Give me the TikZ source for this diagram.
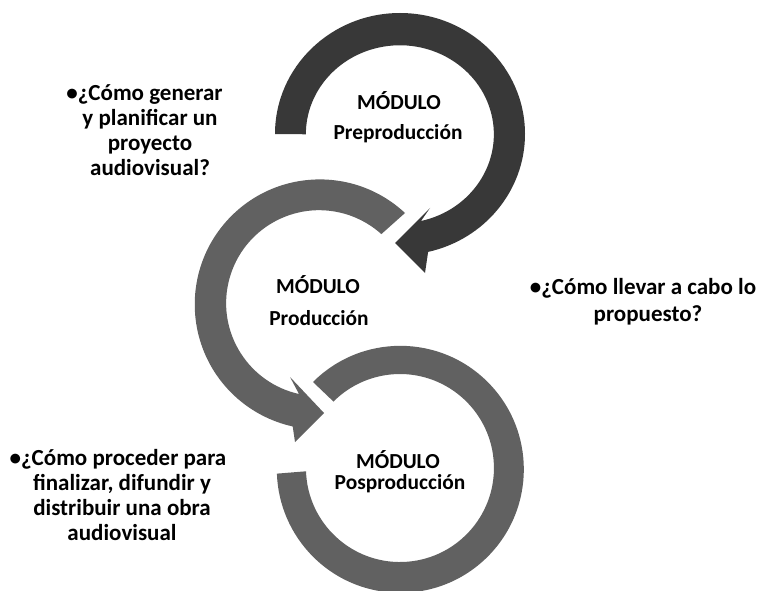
\documentclass[tikz,border=0pt]{standalone}
\usepackage{fontspec}
\setmainfont{Carlito}
\tikzset{
  px/.style={x=1pt,y=-1pt},
  band/.style={fill=#1,draw=none},
  label/.style={font=\bfseries\fontsize{21.4}{25}\selectfont,text=black,inner sep=0pt,anchor=base},
  question/.style={font=\bfseries\fontsize{23}{25}\selectfont,text=black,inner sep=0pt,align=center}
}
\begin{document}
\begin{tikzpicture}[px]
\useasboundingbox (0,0) rectangle (761,591);
\fill[white] (0,0) rectangle (761,591);
% top arrow
\fill[band={black!78}]
  (275,134) arc[start angle=180,end angle=-77,x radius=125,y radius=-121] -- (425,273) -- (395,243) -- (430,208)
  -- (421,221) arc[start angle=-77,end angle=180,x radius=94,y radius=-89] -- cycle;
% middle arrow
\fill[band={black!62}]
  (405,213) arc[start angle=47,end angle=257.5,x radius=125,y radius=-125] -- (295,442) -- (324,413) -- (290,377)
  -- (299,394) arc[start angle=257.5,end angle=48,x radius=93,y radius=-93] -- cycle;
% bottom ring
\fill[band={black!62}]
  (313,382) arc[start angle=135,end angle=-178,x radius=123.5,y radius=-123.5] -- (306,471.3)
  arc[start angle=-178,end angle=135,x radius=94,y radius=-94] -- cycle;
% labels
\node[label] (m1) at (399,110) {MÓDULO};
\node[label] (p1) at (398,140) {Preproducción};
\node[label] (m2) at (318,293) {MÓDULO};
\node[label] (p2) at (319,325) {Producción};
\node[label] (m3) at (398,468) {MÓDULO};
\node[label] (p3) at (400,489) {Posproducción};
\node[question] (q1) at (150,130) {•¿Cómo generar\hspace*{11pt}\\y planificar un\\proyecto\\audiovisual?};
\node[question] (q2) at (648,301.5) {•¿Cómo llevar a cabo lo\hspace*{10pt}\\[2pt]propuesto?};
\node[question] (q3) at (122,495) {•¿Cómo proceder para\hspace*{8pt}\\finalizar, difundir y\\distribuir una obra\\audiovisual};
\end{tikzpicture}
\end{document}
